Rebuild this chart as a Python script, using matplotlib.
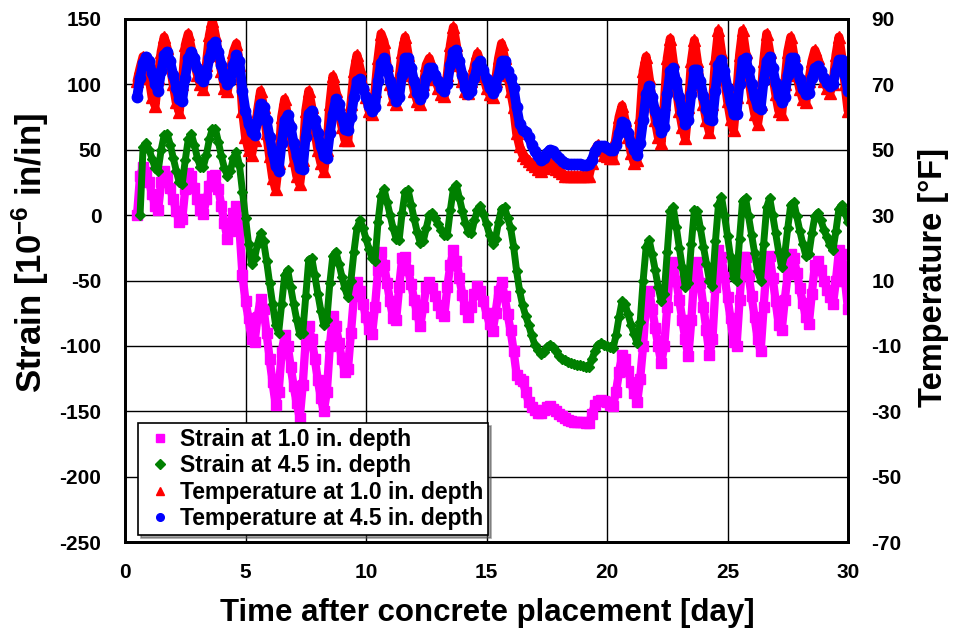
import numpy as np
import matplotlib
matplotlib.use('Agg')
from matplotlib import pyplot as plt
from matplotlib.lines import Line2D

plt.rcParams['font.family'] = ['Liberation Sans', 'DejaVu Sans']
plt.rcParams['font.weight'] = 'bold'
plt.rcParams['axes.unicode_minus'] = False
plt.rcParams['mathtext.fontset'] = 'custom'
plt.rcParams['mathtext.rm'] = 'Liberation Sans:bold'
plt.rcParams['mathtext.bf'] = 'Liberation Sans:bold'
plt.rcParams['mathtext.default'] = 'bf'

# readings every 3 hours, one row per day starting at day 0.5
time_step = 0.125
time_start = 0.5

strain_1in = [
    [0, 30, 37, 33, 25, 16, 7, 4],
    [25, 34, 30, 21, 12, 3, -5, -3],
    [20, 32, 30, 21, 12, 4, 1, 12],
    [22, 30, 31, 20, 7, -6, -18, -12],
    [2, 7, -10, -46, -66, -79, -95, -97],
    [-78, -64, -72, -90, -110, -128, -145, -135],
    [-105, -92, -100, -116, -131, -144, -155, -130],
    [-95, -85, -95, -110, -126, -140, -150, -135],
    [-100, -77, -85, -98, -110, -120, -118, -90],
    [-62, -51, -58, -68, -78, -87, -91, -70],
    [-42, -28, -38, -52, -66, -79, -80, -55],
    [-33, -32, -42, -53, -65, -76, -85, -70],
    [-55, -51, -56, -62, -69, -75, -77, -55],
    [-38, -27, -35, -48, -61, -72, -78, -70],
    [-60, -54, -58, -66, -75, -83, -89, -75],
    [-58, -51, -62, -76, -88, -104, -122, -125],
    [-127, -135, -143, -147, -149, -151, -151, -149],
    [-147, -146, -148, -150, -152, -154, -155.5, -156.5],
    [-157.5, -158, -158, -158.5, -158.5, -159, -159, -152],
    [-145, -142, -141.5, -142, -143, -145, -146, -135],
    [-120, -107, -110, -119, -128, -136, -143, -125],
    [-100, -65, -58, -72, -86, -100, -113, -100],
    [-70, -38, -36, -50, -65, -80, -95, -108],
    [-80, -45, -36, -52, -70, -88, -107, -95],
    [-55, -27, -32, -47, -63, -79, -97, -100],
    [-65, -32, -32, -46, -62, -78, -95, -104],
    [-70, -38, -31, -48, -66, -84, -88, -65],
    [-45, -30, -33, -44, -56, -67, -78, -83],
    [-60, -38, -35, -42, -50, -57, -63, -68],
    [-50, -27, -30, -50, -72],
]

strain_45in = [
    [np.nan, 0, 52, 55, 50, 43, 36, 34],
    [50, 61, 62, 54, 44, 34, 25, 24],
    [42, 58, 62, 54, 44, 37, 37, 46],
    [58, 66, 66, 56, 45, 36, 30, 34],
    [44, 48, 38, 18, -2, -22, -37, -33],
    [-22, -14, -20, -35, -52, -68, -84, -90],
    [-68, -46, -42, -55, -68, -80, -91, -90],
    [-62, -34, -33, -46, -60, -73, -84, -80],
    [-52, -31, -28, -37, -47, -56, -63, -50],
    [-28, -10, -4, -10, -18, -26, -33, -35],
    [-5, 15, 20, 10, 0, -10, -18, -19],
    [2, 18, 19, 8, -3, -13, -21, -20],
    [-10, 0, 2, -2, -7, -11, -15, -15],
    [4, 20, 23, 13, 3, -6, -13, -14],
    [-4, 4, 7, 1, -7, -15, -22, -18],
    [-5, 5, 6, -2, -10, -24, -43, -58],
    [-69, -77, -84, -92, -99, -103, -106, -105],
    [-101, -99, -101, -104, -108, -110, -111, -112],
    [-113, -114, -114.5, -115, -115.5, -116, -116, -110],
    [-104, -99, -98, -99, -100, -101, -102, -92],
    [-78, -66, -68, -76, -84, -91, -98, -82],
    [-50, -24, -19, -30, -42, -55, -66, -60],
    [-28, 3, 6, -9, -25, -40, -55, -52],
    [-22, 4, 3, -10, -24, -37, -50, -54],
    [-20, 8, 14, 0, -16, -32, -48, -50],
    [-18, 11, 13, -1, -15, -29, -43, -50],
    [-22, 6, 13, 0, -14, -28, -40, -30],
    [-10, 8, 10, -1, -12, -22, -31, -30],
    [-14, -1, 2, -4, -11, -17, -23, -27],
    [-12, 5, 8, 2, -5],
]

temp_1in = [
    [71, 75, 78.5, 77, 72, 66, 63.5, 72],
    [80, 84.5, 81, 76, 70, 64.5, 61.5, 70],
    [82, 85.5, 81, 77, 73, 70, 68.5, 76],
    [85, 89.5, 85, 79, 74, 69, 68, 74],
    [80, 82.5, 76, 62, 54, 50, 48.5, 53],
    [62, 68, 63, 55, 48, 41.5, 38, 46],
    [60, 65.5, 60, 53.5, 47, 42, 39.5, 47],
    [62, 68, 63, 56, 50, 46, 43.5, 50],
    [64, 72.5, 68, 62, 57, 53, 53, 64],
    [74, 79, 75, 70, 66, 62, 61, 68],
    [78, 85.5, 83, 76, 70, 65.5, 64, 72],
    [80, 84.5, 79, 73, 68, 65, 64, 70],
    [76, 78, 75, 71.5, 69, 67, 66.5, 73],
    [82, 87.5, 82, 76, 71, 68, 67.5, 71],
    [76, 79.5, 76.5, 72.5, 69, 67, 66, 71],
    [78, 82.5, 78, 73, 68, 63, 55, 51],
    [48.5, 47.5, 46.5, 45.5, 45, 44, 43.5, 44.5],
    [46, 46, 45, 44, 43.5, 43, 42, 42],
    [42, 42, 42, 42, 42, 42, 42, 46],
    [50, 51.5, 50, 48.5, 48, 47.5, 47.5, 54],
    [60, 63.5, 59, 54, 49, 46, 47, 60],
    [74, 78.5, 72, 65, 59, 54, 52, 64],
    [78, 84, 77, 69, 62, 57, 53.5, 63],
    [77, 83.5, 77, 70, 64, 59, 55.5, 64],
    [78, 86.5, 80, 72, 65, 59.5, 56, 66],
    [79, 86.5, 80, 72.5, 66, 61, 58, 64],
    [77, 85.5, 80, 73, 67, 62, 61, 70],
    [80, 84.5, 79, 73, 68.5, 65.5, 64.5, 71],
    [77, 80.5, 78, 74, 71, 69, 67.5, 70],
    [79, 84.5, 78, 70, 62],
]

temp_45in = [
    [66, 72, 76.5, 78.5, 77, 73.5, 70, 68],
    [74, 79, 80, 77, 73, 69, 65.5, 65],
    [72, 78, 80, 78, 75, 72, 71, 73],
    [78, 82, 83, 80, 76, 72, 70, 71],
    [76, 79, 77, 68, 62, 58, 55.5, 54.5],
    [59, 64, 63, 59, 54, 49, 45, 43.5],
    [52, 59, 60.5, 57, 52, 48, 44.5, 44],
    [54, 61, 62, 59, 55, 51, 48, 47.5],
    [55, 61, 65.5, 64, 60, 56.5, 56, 60],
    [66, 71, 71.5, 69, 66, 63.5, 62, 63],
    [71, 76.5, 78, 75, 71, 67.5, 65, 66],
    [73, 78, 78, 75, 71, 67.5, 65.5, 67],
    [72, 75, 75, 73, 71, 69, 68, 70],
    [76, 80, 80.5, 77, 73, 69, 67, 68],
    [72, 76, 77, 74.5, 71.5, 69, 67.5, 69],
    [73, 77, 77, 74, 72, 69, 63, 58],
    [56, 55.5, 54, 51.5, 49.5, 48, 47, 47.5],
    [49, 50, 49.5, 48.5, 47.5, 46.5, 46, 45.5],
    [45.5, 45.5, 45.5, 45.5, 45.3, 45.3, 45.5, 47],
    [49.5, 51, 51, 51, 50.5, 50, 50, 51.5],
    [55, 58.5, 58, 55, 52, 50, 48.5, 52],
    [59, 67, 69.5, 66, 62, 58.5, 55.5, 57],
    [67, 74, 75, 71, 66, 61.5, 58, 59],
    [67, 74.5, 74.5, 71, 66.5, 62.5, 59.5, 59],
    [68, 76, 77.5, 74, 69, 64.5, 61, 61],
    [70, 77.5, 78, 74.5, 70, 66, 63, 62.5],
    [71, 77, 78.5, 75, 70.5, 66.5, 64.5, 66],
    [73, 78, 78, 75, 71.5, 68.5, 67, 67.5],
    [72, 75, 75.5, 74, 72, 70.5, 69.5, 70],
    [74, 77.5, 77.5, 73, 68],
]

labels = ['Strain at 1.0 in. depth', 'Strain at 4.5 in. depth',
          'Temperature at 1.0 in. depth', 'Temperature at 4.5 in. depth']

s1 = np.concatenate([np.array(r, dtype=float) for r in strain_1in])
s45 = np.concatenate([np.array(r, dtype=float) for r in strain_45in])
t1 = np.concatenate([np.array(r, dtype=float) for r in temp_1in])
t45 = np.concatenate([np.array(r, dtype=float) for r in temp_45in])
days = time_start + time_step * np.arange(len(s1))

fig = plt.figure(figsize=(9.54, 6.4), dpi=100)
ax = fig.add_axes([125/954, 98/640, 723/954, 523/640])
ax2 = ax.twinx()

# dense logger readings show up as a solid band of markers
styles = [
    (ax, s1, 's', 6.5, 6.0, '#ff00ff', 5.5),
    (ax, s45, 'D', 5.5, 5.0, '#008000', 5.0),
    (ax2, t1, '^', 8.5, 6.5, '#ff0000', 6.0),
    (ax2, t45, 'o', 7.5, 7.0, '#0000ff', 5.5),
]
for a, y, mk, ms, lw, col, _ in styles:
    a.plot(days, y, ls='-', lw=lw, color=col, marker=mk, ms=ms, mfc=col, mec=col,
           solid_joinstyle='round', solid_capstyle='round')

ax.set_xlim(0, 30)
ax.set_ylim(-250, 150)
ax2.set_ylim(-70, 90)
ax.set_xticks(np.arange(0, 31, 5))
ax.set_yticks(np.arange(-250, 151, 50))
ax2.set_yticks(np.arange(-70, 91, 20))
ax.grid(True, color='black', lw=1)
ax.set_axisbelow(True)

ax.tick_params(axis='both', labelsize=15, direction='in', length=0, pad=17)
ax.tick_params(axis='x', pad=15)
ax2.tick_params(axis='y', labelsize=15, direction='in', length=0, pad=17)
for a in (ax, ax2):
    for sp in a.spines.values():
        sp.set_linewidth(2)
        sp.set_color('black')
    for lab in a.get_xticklabels() + a.get_yticklabels():
        lab.set_fontweight('bold')

fig.text(30/954, 1 - 253/640, r'Strain [10$^{-6}$ in/in]', rotation=90, ha='center', va='center',
         fontsize=25, fontweight='bold')
fig.text(934/954, 1 - 277/640, 'Temperature [°F]', rotation=90, ha='center', va='center',
         fontsize=23.5, fontweight='bold')
fig.text(487/954, 1 - 613/640, 'Time after concrete placement [day]', ha='center', va='center',
         fontsize=22.5, fontweight='bold')

handles = [Line2D([], [], ls='none', marker=mk, ms=lms, mfc=col, mec=col)
           for _, _, mk, _, _, col, lms in styles]
leg = ax2.legend(handles=handles, labels=labels, loc='upper left', bbox_to_anchor=(13/723, 119/523),
                 borderaxespad=0, fancybox=False, shadow=True, framealpha=1, edgecolor='black',
                 prop={'size': 16.5, 'weight': 'bold'}, handlelength=1.5, handletextpad=0.1,
                 labelspacing=0.15, borderpad=0.22)
leg.get_frame().set_linewidth(1.2)

fig.savefig('out.png', dpi=100)
